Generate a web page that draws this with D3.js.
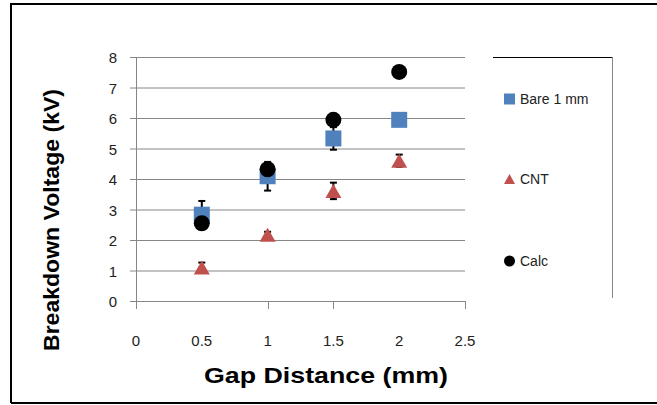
<!DOCTYPE html>
<html><head><meta charset="utf-8">
<script src="https://cdn.jsdelivr.net/npm/d3@7"></script>
<style>body{margin:0;background:#fff}svg{display:block}</style>
</head><body>
<svg id="c" width="657" height="405"></svg>
<script>
const gaps = [0.5, 1, 1.5, 2];
const bareValues = [2.83, 4.09, 5.33, 5.94];
const bareErrors = [0.45, 0.47, 0.37, 0];
const cntValues = [1.1, 2.17, 3.61, 4.6];
const cntErrors = [0.16, 0.1, 0.27, 0.2];
const calcValues = [2.55, 4.32, 5.94, 7.51];
const seriesNames = ["Bare 1 mm", "CNT", "Calc"];
const xTickLabels = [0, 0.5, 1, 1.5, 2, 2.5];
const xTickMarks = [0, 1, 1.5, 2.5];
const yTickLabels = [0, 1, 2, 3, 4, 5, 6, 7, 8];

const svg = d3.select("#c");
const x = d3.scaleLinear().domain([0, 2.5]).range([136, 465]);
const y = d3.scaleLinear().domain([0, 8]).range([301, 57]);
const grid = "#868686";
const font = "'Liberation Sans', Arial, sans-serif";

// outer border
svg.append("path").attr("d", "M11,403 L11,4 L660,4 M11,403 L660,403")
  .attr("fill", "none").attr("stroke", "#000").attr("stroke-width", 2);

// gridlines
svg.append("g").selectAll("line").data(yTickLabels.filter(d => d > 0)).join("line")
  .attr("x1", 130).attr("x2", 465).attr("y1", d => y(d) + 0.5).attr("y2", d => y(d) + 0.5)
  .attr("stroke", grid).attr("stroke-width", 1);

// x axis
svg.append("line").attr("x1", 130).attr("x2", 465).attr("y1", y(0) + 0.5).attr("y2", y(0) + 0.5)
  .attr("stroke", grid);
svg.append("g").selectAll("line").data(xTickMarks).join("line")
  .attr("x1", d => Math.round(x(d)) + 0.5).attr("x2", d => Math.round(x(d)) + 0.5)
  .attr("y1", y(0)).attr("y2", y(0) + 8).attr("stroke", grid);
// y axis
svg.append("line").attr("x1", 136.5).attr("x2", 136.5).attr("y1", y(8)).attr("y2", y(0) + 8)
  .attr("stroke", grid);

// tick labels
svg.append("g").selectAll("text").data(yTickLabels).join("text")
  .attr("x", 117).attr("y", d => y(d) + 6).attr("text-anchor", "end")
  .attr("font-family", font).attr("font-size", 15).attr("fill", "#222").text(d => d);
svg.append("g").selectAll("text").data(xTickLabels).join("text")
  .attr("x", d => x(d)).attr("y", 346).attr("text-anchor", "middle")
  .attr("font-family", font).attr("font-size", 15).attr("fill", "#222").text(d => d);

// axis titles
svg.append("text").attr("x", 326).attr("y", 383).attr("text-anchor", "middle")
  .attr("font-family", font).attr("font-weight", "bold").attr("font-size", 22)
  .attr("textLength", 244).attr("lengthAdjust", "spacingAndGlyphs")
  .text("Gap Distance (mm)");
svg.append("text").attr("transform", "translate(59,220) rotate(-90)").attr("text-anchor", "middle")
  .attr("font-family", font).attr("font-weight", "bold").attr("font-size", 22)
  .attr("textLength", 262).attr("lengthAdjust", "spacingAndGlyphs")
  .text("Breakdown Voltage (kV)");

// error bars
function errBars(vals, errs) {
  const g = svg.append("g").attr("stroke", "#000").attr("stroke-width", 2);
  gaps.forEach((gx, i) => {
    if (!errs[i]) return;
    const cx = x(gx), y1 = y(vals[i] - errs[i]), y2 = y(vals[i] + errs[i]);
    g.append("line").attr("x1", cx).attr("x2", cx).attr("y1", y1).attr("y2", y2);
    g.append("line").attr("x1", cx - 3.5).attr("x2", cx + 3.5).attr("y1", y1).attr("y2", y1);
    g.append("line").attr("x1", cx - 3.5).attr("x2", cx + 3.5).attr("y1", y2).attr("y2", y2);
  });
}
const tri = (cx, cy, w, h) => `M${cx - w / 2},${cy + h / 2} L${cx},${cy - h / 2} L${cx + w / 2},${cy + h / 2} Z`;

errBars(bareValues, bareErrors);
svg.append("g").selectAll("rect").data(gaps).join("rect")
  .attr("x", d => x(d) - 8).attr("y", (d, i) => y(bareValues[i]) - 8)
  .attr("width", 16).attr("height", 16).attr("fill", "#4F81BD");

errBars(cntValues, cntErrors);
svg.append("g").selectAll("path").data(gaps).join("path")
  .attr("d", (d, i) => tri(x(d), y(cntValues[i]), 16, 14)).attr("fill", "#C0504D");

svg.append("g").selectAll("circle").data(gaps).join("circle")
  .attr("cx", d => x(d)).attr("cy", (d, i) => y(calcValues[i])).attr("r", 8).attr("fill", "#000");

// legend
svg.append("line").attr("x1", 493).attr("x2", 612).attr("y1", 57.5).attr("y2", 57.5).attr("stroke", "#000");
svg.append("line").attr("x1", 612.5).attr("x2", 612.5).attr("y1", 57).attr("y2", 298).attr("stroke", grid);
const legY = [99, 179, 261];
const lg = svg.append("g");
lg.append("rect").attr("x", 504).attr("y", legY[0] - 5.5).attr("width", 11).attr("height", 11).attr("fill", "#4F81BD");
lg.append("path").attr("d", tri(509.5, legY[1], 11, 10)).attr("fill", "#C0504D");
lg.append("circle").attr("cx", 509.5).attr("cy", legY[2]).attr("r", 5.5).attr("fill", "#000");
lg.selectAll("text").data(seriesNames).join("text")
  .attr("x", 520).attr("y", (d, i) => legY[i] + 5).attr("font-family", font).attr("font-size", 14)
  .attr("fill", "#222").text(d => d);
</script>
</body></html>
